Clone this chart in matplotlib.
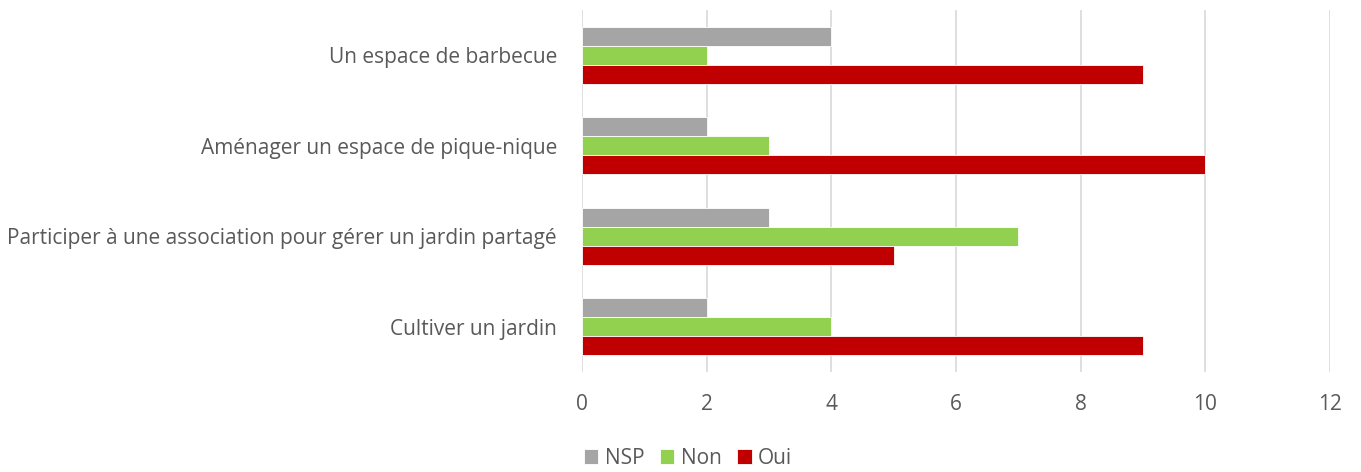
import matplotlib
matplotlib.use("Agg")
import matplotlib.pyplot as plt
import numpy as np

categories = ["Cultiver un jardin",
              "Participer à une association pour gérer un jardin partagé",
              "Aménager un espace de pique-nique",
              "Un espace de barbecue"]
nsp = [2, 3, 2, 4]
non = [4, 7, 3, 2]
oui = [9, 5, 10, 9]
series_names = ["NSP", "Non", "Oui"]
colors = ["#A5A5A5", "#92D050", "#C00000"]
xticks = [0, 2, 4, 6, 8, 10, 12]

plt.rcParams['font.family'] = ['Open Sans', 'DejaVu Sans']
fig = plt.figure(figsize=(13.61, 4.72), dpi=100)
ax = fig.add_axes([582/1361, 1-372/472, (1330-582)/1361, (372-10)/472])

y = np.arange(len(categories))
h = 0.21
for vals, off, c, name in zip([nsp, non, oui], [h, 0, -h], colors, series_names):
    ax.barh(y + off, vals, height=h, color=c, label=name, edgecolor='white', linewidth=0.6, zorder=3)

ax.set_ylim(-0.5, 3.5)
ax.set_xlim(0, 12)
ax.set_xticks(xticks)
ax.set_yticks(y)
ax.set_yticklabels(categories)
ax.grid(axis='x', color='#D9D9D9', linewidth=1.2, zorder=0)
for s in ax.spines.values():
    s.set_visible(False)
ax.tick_params(axis='both', length=0, labelsize=15, labelcolor='#595959')
ax.tick_params(axis='x', pad=16)
ax.tick_params(axis='y', pad=18)

leg = fig.legend(loc='center', bbox_to_anchor=(688/1361, 1-458/472), ncol=3, frameon=False,
                 fontsize=15, handlelength=0.7, handleheight=0.7, handletextpad=0.3,
                 columnspacing=0.75, labelcolor='#595959')

fig.savefig("out.png", dpi=100)
